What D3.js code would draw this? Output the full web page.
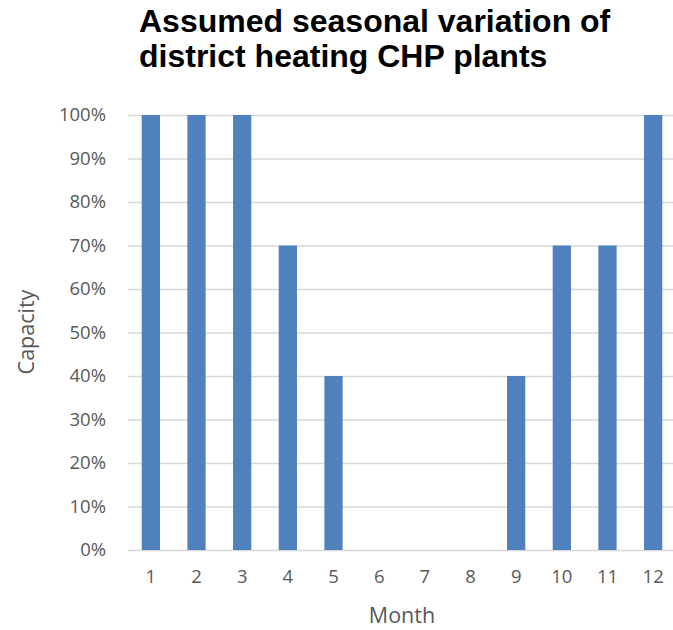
<!DOCTYPE html>
<html><head><meta charset="utf-8">
<script src="https://cdn.jsdelivr.net/npm/d3@7"></script>
<style>body{margin:0;background:#fff}svg{display:block}</style>
</head><body>
<svg id="c" width="673" height="630"></svg>
<script>
const months = ["1","2","3","4","5","6","7","8","9","10","11","12"];
const capacity = [1.0,1.0,1.0,0.7,0.4,0,0,0,0.4,0.7,0.7,1.0];
const yTicks = [0,0.1,0.2,0.3,0.4,0.5,0.6,0.7,0.8,0.9,1.0];
const titleLines = ["Assumed seasonal variation of","district heating CHP plants"];

const svg = d3.select("#c");
const m = {left:128, right:676, top:115, bottom:550};
const x = d3.scaleBand().domain(months).range([m.left, m.right]).paddingInner(0.6).paddingOuter(0.3);
const y = d3.scaleLinear().domain([0,1]).range([m.bottom, m.top]);
const font = "'Open Sans', sans-serif";

// gridlines
const gy = svg.append("g").attr("transform",`translate(${m.left},0)`)
  .call(d3.axisLeft(y).tickValues(yTicks).tickSize(-(m.right-m.left)).tickFormat(d3.format(".0%")).tickPadding(22));
gy.select(".domain").remove();
gy.selectAll(".tick line").attr("stroke","#d9d9d9").attr("stroke-width",1.5);
gy.selectAll(".tick text").attr("fill","#595959").style("font-family",font).style("font-size","18.5px");

// bars
svg.append("g").selectAll("rect").data(months).join("rect")
  .attr("x", d=>x(d)).attr("width", x.bandwidth())
  .attr("y", (d,i)=>y(capacity[i])).attr("height",(d,i)=>y(0)-y(capacity[i]))
  .attr("fill","#4f81bd");

// x axis
const gx = svg.append("g").attr("transform",`translate(0,${m.bottom})`)
  .call(d3.axisBottom(x).tickSize(0).tickPadding(20));
gx.select(".domain").remove();
gx.selectAll(".tick text").attr("fill","#595959").style("font-family",font).style("font-size","18.5px");

// axis titles
svg.append("text").attr("x",(m.left+m.right)/2).attr("y",623).attr("text-anchor","middle")
  .attr("fill","#595959").style("font-family",font).style("font-size","21.5px").text("Month");
svg.append("text").attr("transform","translate(34,332) rotate(-90)").attr("text-anchor","middle")
  .attr("fill","#595959").style("font-family",font).style("font-size","21.5px").text("Capacity");

// title
svg.append("g").selectAll("text").data(titleLines).join("text")
  .attr("x",139).attr("y",(d,i)=>32+i*35)
  .attr("fill","#000").style("font-family","'Liberation Sans', Arial, sans-serif")
  .style("font-weight","bold").style("font-size","32px").text(d=>d);
</script>
</body></html>
